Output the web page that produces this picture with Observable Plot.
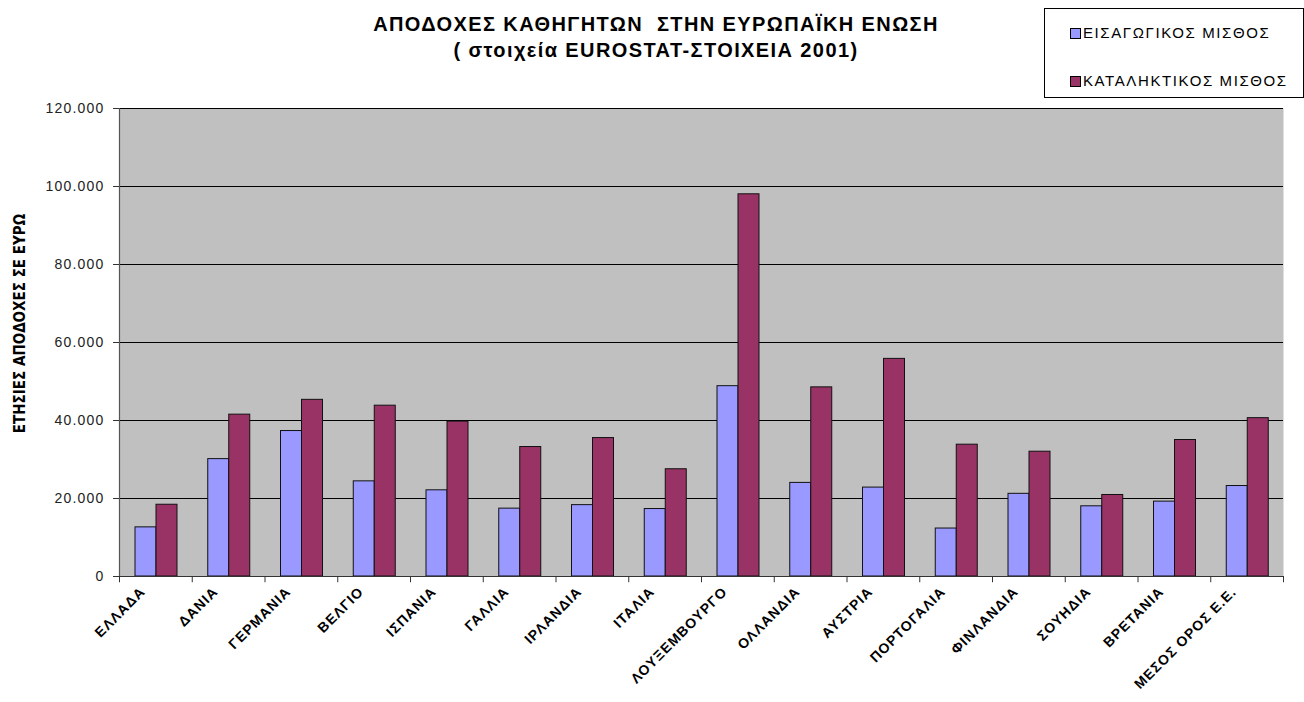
<!DOCTYPE html>
<html>
<head>
<meta charset="utf-8">
<script src="https://cdn.jsdelivr.net/npm/d3@7"></script>
<script src="https://cdn.jsdelivr.net/npm/@observablehq/plot@0.6"></script>
<style>
  html, body { margin: 0; padding: 0; background: #fff; }
  #wrap { position: relative; width: 1304px; height: 702px; font-family: "Liberation Sans", Arial, sans-serif; }
  #title { position: absolute; left: 306px; top: 11px; width: 700px; text-align: center; font-weight: bold; font-size: 20px; letter-spacing: 1.4px; line-height: 26px; color: #000; }
  #legend { position: absolute; left: 1044px; top: 8px; width: 258px; height: 88px; border: 1px solid #000; background: #fff; font-size: 15px; letter-spacing: 1.6px; color: #000; }
  .item { position: absolute; left: 25px; height: 18px; line-height: 18px; white-space: nowrap; }
  .sw { display: inline-block; width: 11px; height: 11px; border: 1px solid #000; margin-right: 2px; vertical-align: -1px; box-sizing: border-box; }
  #chart { position: absolute; left: 0; top: 0; }
  #chart svg g[aria-label="y-axis tick label"] text { letter-spacing: 1.2px; }
  #chart svg g[aria-label="x-axis tick label"] text { letter-spacing: 1px; }
</style>
</head>
<body>
<div id="wrap">
  <div id="chart"></div>
  <div id="title"></div>
  <div id="legend"></div>
</div>
<script>
const countries = ["ΕΛΛΑΔΑ", "ΔΑΝΙΑ", "ΓΕΡΜΑΝΙΑ", "ΒΕΛΓΙΟ", "ΙΣΠΑΝΙΑ", "ΓΑΛΛΙΑ", "ΙΡΛΑΝΔΙΑ", "ΙΤΑΛΙΑ", "ΛΟΥΞΕΜΒΟΥΡΓΟ", "ΟΛΛΑΝΔΙΑ", "ΑΥΣΤΡΙΑ", "ΠΟΡΤΟΓΑΛΙΑ", "ΦΙΝΛΑΝΔΙΑ", "ΣΟΥΗΔΙΑ", "ΒΡΕΤΑΝΙΑ", "ΜΕΣΟΣ ΟΡΟΣ Ε.Ε."];
const startingSalary = [12600, 30100, 37300, 24400, 22100, 17400, 18300, 17300, 48800, 24000, 22800, 12300, 21200, 18000, 19200, 23200];
const finalSalary = [18400, 41500, 45300, 43800, 39700, 33200, 35500, 27500, 98000, 48500, 55800, 33800, 32000, 20900, 35000, 40600];
const seriesNames = ["ΕΙΣΑΓΩΓΙΚΟΣ ΜΙΣΘΟΣ", "ΚΑΤΑΛΗΚΤΙΚΟΣ ΜΙΣΘΟΣ"];
const seriesColors = ["#9999ff", "#993366"];
const yTicks = [0, 20000, 40000, 60000, 80000, 100000, 120000];
const titleLines = ["ΑΠΟΔΟΧΕΣ ΚΑΘΗΓΗΤΩΝ  ΣΤΗΝ ΕΥΡΩΠΑΪΚΗ ΕΝΩΣΗ", "( στοιχεία EUROSTAT-ΣΤΟΙΧΕΙΑ 2001)"];
const yLabel = "ΕΤΗΣΙΕΣ ΑΠΟΔΟΧΕΣ ΣΕ ΕΥΡΩ";

const W = 1304, H = 702;
const mL = 119, mR = 21, mT = 108, mB = 126;
const bw = (W - mL - mR) / countries.length;
const barW = 21, leftGap = 16;

const rows1 = countries.map((c, i) => ({country: c, value: startingSalary[i]}));
const rows2 = countries.map((c, i) => ({country: c, value: finalSalary[i]}));

const fmt = d => d === 0 ? "0" : d3.format(",")(d).replace(/,/g, ".");

const plot = Plot.plot({
  width: W, height: H,
  marginLeft: mL, marginRight: mR, marginTop: mT, marginBottom: mB,
  style: {fontFamily: "'Liberation Sans', Arial, sans-serif", background: "transparent", overflow: "visible"},
  x: {type: "band", domain: countries, padding: 0, round: false, axis: null},
  y: {domain: [0, 120000], axis: null},
  marks: [
    Plot.frame({fill: "#c0c0c0", stroke: null}),
    Plot.ruleY(yTicks, {stroke: "#000", strokeWidth: 1.2}),
    Plot.barY(rows1, {x: "country", y: "value", fill: seriesColors[0], stroke: "#111", strokeWidth: 1, insetLeft: leftGap, insetRight: bw - leftGap - barW}),
    Plot.barY(rows2, {x: "country", y: "value", fill: seriesColors[1], stroke: "#111", strokeWidth: 1, insetLeft: leftGap + barW, insetRight: bw - leftGap - 2 * barW}),
    Plot.ruleY([0], {stroke: "#333", strokeWidth: 1.2}),
    Plot.ruleX([countries[0]], {x: d => d, dx: -bw / 2, y1: 0, y2: 120000, stroke: "#555", strokeWidth: 1.2}),
    Plot.ruleX(countries, {x: d => d, dx: -bw / 2, y1: 0, y2: -1600, stroke: "#333"}),
    Plot.ruleX([countries[countries.length - 1]], {x: d => d, dx: bw / 2, y1: 0, y2: -1600, stroke: "#333"}),
    Plot.axisY(yTicks, {anchor: "left", tickSize: 6, tickPadding: 9, tickFormat: fmt, fontSize: 14, label: null, stroke: "#333", fill: "#222"}),
    Plot.axisX({anchor: "bottom", tickSize: 0, tickPadding: 13, tickRotate: -45, fontSize: 14, fontWeight: "bold", label: null, fill: "#000", dx: -13}),
    Plot.text([yLabel], {frameAnchor: "left", dx: -99, dy: -19, rotate: -90, textAnchor: "middle", fontSize: 15, fontWeight: "bold", fontFamily: "'DejaVu Sans Condensed', 'DejaVu Sans', sans-serif", fontStretch: "condensed", fill: "#000"})
  ]
});
document.getElementById("chart").appendChild(plot);

document.getElementById("title").innerHTML = titleLines.map(t => `<div>${t.replace(/  /g, " &nbsp;")}</div>`).join("");
const lg = document.getElementById("legend");
seriesNames.forEach((name, i) => {
  const it = document.createElement("div");
  it.className = "item";
  it.style.top = (i === 0 ? 15 : 63) + "px";
  it.innerHTML = `<span class="sw" style="background:${seriesColors[i]}"></span>${name}`;
  lg.appendChild(it);
});
</script>
</body>
</html>
